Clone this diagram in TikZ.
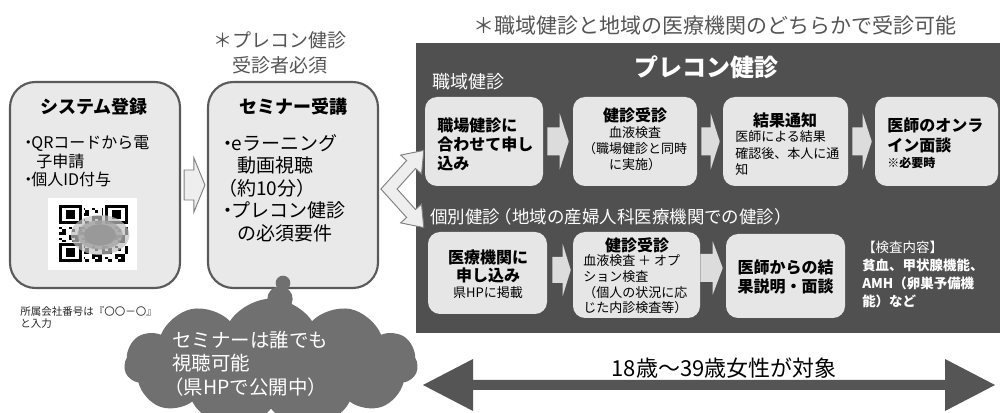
\documentclass[tikz,border=0pt]{standalone}
\usepackage{fontspec}
\setmainfont{Noto Sans CJK JP}
\usetikzlibrary{shapes.symbols,calc}
\definecolor{bigboxfill}{HTML}{E9E9E9}
\definecolor{bigboxline}{HTML}{5A5A5A}
\definecolor{panelc}{HTML}{505050}
\definecolor{rowboxc}{HTML}{E6E6E6}
\definecolor{rowarrowc}{HTML}{DCDCDC}
\definecolor{cloudc}{HTML}{707070}
\definecolor{notec}{HTML}{555555}
\definecolor{hollowc}{HTML}{EEEEEE}
\definecolor{hollowline}{HTML}{7F7F7F}
\newcommand{\myfs}[2]{\fontsize{#1}{#2}\selectfont}
\newcommand{\mydot}{・\hspace{-0.3em}}
\newcommand{\myblockarrow}[6]{\path[#1] let \p1=(#2), \p2=(#3) in ({\x1},{\y1-#4}) -- ({\x2-#6},{\y1-#4}) -- ({\x2-#6},{\y1-#5}) -- ({\x2},{\y1}) -- ({\x2-#6},{\y1+#5}) -- ({\x2-#6},{\y1+#4}) -- ({\x1},{\y1+#4}) -- cycle;}
\begin{document}
\begin{tikzpicture}[x=0.75pt,y=-0.75pt,
  bigbox/.style={draw=bigboxline, line width=1.6pt, fill=bigboxfill, rounded corners=19pt, inner sep=0},
  rowbox/.style={fill=rowboxc, rounded corners=9pt, inner sep=0},
  rowarrow/.style={fill=rowarrowc},
  hollowarrow/.style={fill=hollowc, draw=hollowline, line width=0.7pt, line join=miter},
  txt/.style={inner sep=0, align=left, anchor=west},
  ctxt/.style={inner sep=0, align=center},
  wtxt/.style={text=white}]
\useasboundingbox (0,0) rectangle (1000,413);
\clip (0,0) rectangle (1000,413);
\fill[white] (0,0) rectangle (1000,413);

% left boxes
\node[bigbox, minimum width=127.5pt, minimum height=154.5pt] (sys) at (95,185) {};
\node[bigbox, minimum width=127.5pt, minimum height=154.5pt] (sem) at (293,185) {};
\myblockarrow{hollowarrow}{$(sys.east)+(3,0)$}{$(sem.west)+(-2,0)$}{11.25pt}{20.25pt}{8.25pt}

% QR code
\fill[white] (48,198) rectangle (137,270);
\foreach \i in {0,...,20}{
  \foreach \j in {0,...,20}{
    \pgfmathtruncatemacro\v{mod(\i*7+\j*11+\i*\j*5+3,7)}
    \ifnum\v<3 \fill[black] (59+\i*3.2857,205+\j*2.714) rectangle ++(3.2857,2.714);\fi
  }}
\foreach \ci/\cj in {0/0,14/0,0/14}{
  \fill[white] ({59+(\ci-0.5)*3.2857},{205+(\cj-0.5)*2.714}) rectangle ++(8*3.2857,8*2.714);
  \fill[black] ({59+\ci*3.2857},{205+\cj*2.714}) rectangle ++(7*3.2857,7*2.714);
  \fill[white] ({59+(\ci+1)*3.2857},{205+(\cj+1)*2.714}) rectangle ++(5*3.2857,5*2.714);
  \fill[black] ({59+(\ci+2)*3.2857},{205+(\cj+2)*2.714}) rectangle ++(3*3.2857,3*2.714);
}
\fill[gray!50, opacity=0.7] (100,235) ellipse [x radius=22pt, y radius=15pt];
\fill[gray!70, opacity=0.8] (100,235) ellipse [x radius=17pt, y radius=11pt];
\fill[gray!80] (100,235) ellipse [x radius=12pt, y radius=8pt];

% panel
\node[fill=panelc, minimum width=438pt, minimum height=217.5pt, anchor=north west, inner sep=0] (panel) at (416,43) {};

% row 1
\node[rowbox, minimum width=88.5pt, minimum height=66.75pt] (A) at (484,141.5) {};
\node[rowbox, minimum width=93pt, minimum height=66.75pt] (B) at (635,141.5) {};
\node[rowbox, minimum width=93.75pt, minimum height=66.75pt] (C) at (785.5,141.5) {};
\node[rowbox, minimum width=92.25pt, minimum height=66.75pt] (D) at (936.5,141.5) {};
\myblockarrow{rowarrow}{$(A.east)+(4,0)$}{$(B.west)+(-4,0)$}{10.5pt}{21pt}{6.75pt}
\myblockarrow{rowarrow}{$(B.east)+(4,0)$}{$(C.west)+(-3,0)$}{10.5pt}{21pt}{6.75pt}
\myblockarrow{rowarrow}{$(C.east)+(4,0)$}{$(D.west)+(-3,0)$}{10.5pt}{21pt}{6.75pt}

% row 2
\node[rowbox, minimum width=89.25pt, minimum height=61.5pt] (E) at (487.5,273) {};
\node[rowbox, minimum width=95.25pt, minimum height=64.5pt] (F) at (636.5,275) {};
\node[rowbox, minimum width=89.25pt, minimum height=63pt] (G) at (785.5,276) {};
\myblockarrow{rowarrow}{$(E.east)+(5,-3)$}{$(F.west)+(-2,-3)$}{9.75pt}{19.5pt}{6pt}
\myblockarrow{rowarrow}{$(F.east)+(0,-7)$}{$(G.west)+(-3,-7)$}{10.5pt}{20pt}{7.5pt}

% branch arrows
\draw[hollowarrow] (380.9,189) -- (406.6,160.5) -- (400.7,155.1) -- (423.8,150.4) -- (421.5,173.9) -- (415.5,168.5) -- (397.1,189) -- (415.5,209.5) -- (421.5,204.1) -- (423.8,227.6) -- (400.7,222.9) -- (406.6,217.5) -- cycle;

% big double arrow
\coordinate (agel) at (423,385);
\coordinate (ager) at (995,385);
\fill[notec] (agel) -- (473,359) -- (473,380) -- (945,380) -- (945,359) -- (ager) -- (945,411) -- (945,390) -- (473,390) -- (473,411) -- cycle;

% cloud
\node[cloud, cloud puffs=11, cloud puff arc=115, aspect=2.5, fill=cloudc, minimum width=220pt, minimum height=98pt, inner sep=0] (cl) at (271,364) {};
\fill[cloudc] (280,299) circle [radius=9.5pt];
\fill[cloudc] (283,283) circle [radius=5.5pt];

% texts left
\node[ctxt, text=notec, font=\myfs{14.25pt}{18.75pt}] (note1) at (280,52.5) {＊プレコン健診\\受診者必須};
\node[ctxt, font=\bfseries\myfs{13.5pt}{16pt}] (systitle) at (94,107) {システム登録};
\node[txt, font=\myfs{12pt}{13.9pt}] (sysbody) at (20,161.5) {\mydot QRコードから電\\\hspace*{1em}子申請\\\mydot 個人ID付与};
\node[ctxt, font=\bfseries\myfs{13.5pt}{16pt}] (semtitle) at (293,107) {セミナー受講};
\node[txt, font=\myfs{14.25pt}{16.875pt}] (sembody) at (218,188) {\mydot eラーニング\\\hspace*{1em}動画視聴\\（約10分）\\\mydot プレコン健診\\\hspace*{1em}の必須要件};
\node[txt, text=black!85, font=\myfs{7.875pt}{9pt}] (foot) at (20,318) {所属会社番号は『〇〇－〇』\\と入力};
\node[txt, wtxt, font=\myfs{14.6pt}{17.6pt}] (cltext) at (172,363.5) {セミナーは誰でも\\視聴可能\\\hspace*{-0.4em}（県HPで公開中）};

% texts right
\node[ctxt, text=notec, font=\myfs{15.75pt}{18pt}] (note2) at (715,26) {＊職域健診と地域の医療機関のどちらかで受診可能};
\node[ctxt, wtxt, font=\bfseries\myfs{18pt}{20pt}] (ptitle) at (706,67) {プレコン健診};
\node[txt, wtxt, font=\myfs{13.5pt}{16pt}] (shokuiki) at (432,82) {職域健診};
\node[txt, wtxt, font=\myfs{13.1pt}{16pt}] (kobetsu) at (430,217) {個別健診\hspace{-0.3em}（地域の産婦人科医療機関での健診）};

\node[txt, font=\bfseries\myfs{12pt}{14.25pt}] (Atext) at (437,144) {職場健診に\\合わせて申し\\込み};
\node[ctxt, font=\bfseries\myfs{12pt}{14pt}] (Btitle) at (635,115) {健診受診};
\node[ctxt, font=\myfs{9.75pt}{12pt}] (Bbody) at (635,149) {血液検査\\（職場健診と同時\\に実施）};
\node[ctxt, font=\bfseries\myfs{12pt}{14pt}] (Ctitle) at (785,120) {結果通知};
\node[txt, font=\myfs{9.75pt}{12.4pt}] (Cbody) at (735,153.5) {医師による結果\\確認後、本人に通\\知};
\node[txt, font=\bfseries\myfs{12pt}{15pt}] (Dtext) at (887,135) {医師のオンラ\\イン面談};
\node[txt, font=\bfseries\myfs{9pt}{11pt}] (Dnote) at (887,163) {※必要時};

\node[ctxt, font=\bfseries\myfs{12pt}{13.5pt}] (Etext) at (488,266) {医療機関に\\申し込み};
\node[ctxt, font=\myfs{9.75pt}{12pt}] (Enote) at (488,293) {県HPに掲載};
\node[ctxt, font=\bfseries\myfs{12pt}{14pt}] (Ftitle) at (637,245) {健診受診};
\node[txt, font=\myfs{9.75pt}{11.8pt}] (Fbody) at (583,284.5) {血液検査 ＋ オプ\\ション検査\\（個人の状況に応\\じた内診検査等）};
\node[ctxt, font=\bfseries\myfs{12pt}{14.25pt}] (Gtext) at (785.5,276.5) {医師からの結\\果説明・面談};
\node[txt, wtxt, font=\myfs{10.1pt}{13.3pt}] (kensa) at (862,274.5) {【検査内容】\\{\bfseries 貧血、甲状腺機能、}\\{\bfseries AMH（卵巣予備機}\\{\bfseries 能）など}};

\node[ctxt, font=\myfs{16.5pt}{18pt}] (target) at (724,368) {18歳～39歳女性が対象};
\end{tikzpicture}
\end{document}
